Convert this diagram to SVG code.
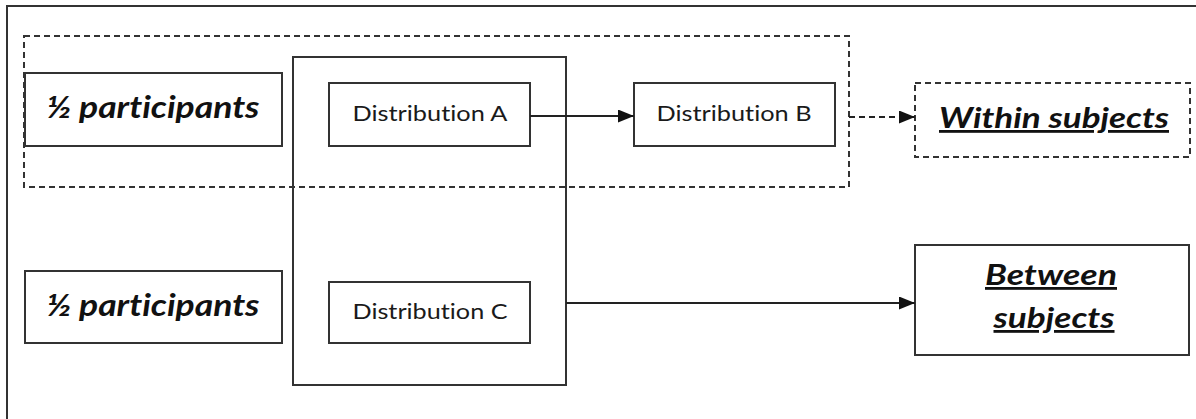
<svg xmlns="http://www.w3.org/2000/svg" width="1196" height="419" viewBox="0 0 1196 419">
<style>
.box{fill:#fff;stroke:#333;stroke-width:2}
.dash{fill:none;stroke:#333;stroke-width:2;stroke-dasharray:6 4}
.line{fill:none;stroke:#222;stroke-width:2}
.big{font-family:Lato,"Liberation Sans",sans-serif;font-weight:bold;font-style:italic;font-size:30px;fill:#111;text-anchor:middle;font-variant-ligatures:none}
.mid{font-size:28px}
.dist{font-family:Lato,"Liberation Sans",sans-serif;font-size:21px;fill:#1a1a1a;text-anchor:middle;font-variant-ligatures:none}
</style>
<defs>
<marker id="arr" viewBox="0 0 16 13" refX="16" refY="6.5" markerWidth="16" markerHeight="13" markerUnits="userSpaceOnUse" orient="auto">
<path d="M0,0 L16,6.5 L0,13 Z" fill="#111"/>
</marker>
</defs>
<rect width="1196" height="419" fill="#fff"/>
<rect id="frame" x="7" y="6" width="1200" height="430" fill="none" stroke="#333" stroke-width="2"/>
<g id="within-group">
<rect x="24" y="36" width="825" height="151" class="dash"/>
</g>
<g id="distribution-container">
<rect x="293" y="57" width="273" height="328" style="fill:none;stroke:#333;stroke-width:2"/>
</g>
<g id="participants-1">
<rect x="25" y="73" width="257" height="73" class="box"/>
<text x="153" y="118" class="big" textLength="213" lengthAdjust="spacingAndGlyphs">½ participants</text>
</g>
<g id="participants-2">
<rect x="25" y="271" width="257" height="72" class="box"/>
<text x="153" y="316" class="big" textLength="213" lengthAdjust="spacingAndGlyphs">½ participants</text>
</g>
<g id="dist-a">
<rect x="329" y="83" width="201" height="63" class="box"/>
<text x="430" y="121" class="dist" textLength="155" lengthAdjust="spacingAndGlyphs">Distribution A</text>
</g>
<g id="dist-b">
<rect x="634" y="83" width="201" height="63" class="box"/>
<text x="734" y="121" class="dist" textLength="155" lengthAdjust="spacingAndGlyphs">Distribution B</text>
</g>
<g id="dist-c">
<rect x="329" y="282" width="201" height="61" class="box"/>
<text x="430" y="319" class="dist" textLength="155" lengthAdjust="spacingAndGlyphs">Distribution C</text>
</g>
<g id="within">
<rect x="915" y="83" width="275" height="74" class="dash" style="fill:#fff"/>
<text x="1054" y="128" class="big mid" text-decoration="underline" textLength="230" lengthAdjust="spacingAndGlyphs">Within subjects</text>
</g>
<g id="between">
<rect x="915" y="245" width="274" height="110" class="box"/>
<text x="1051" y="285" class="big mid" text-decoration="underline" textLength="132" lengthAdjust="spacingAndGlyphs">Between</text>
<text x="1054" y="328" class="big mid" text-decoration="underline" textLength="121" lengthAdjust="spacingAndGlyphs">subjects</text>
</g>
<g id="connectors">
<line x1="530" y1="116" x2="634" y2="116" class="line" marker-end="url(#arr)"/>
<line x1="849" y1="117" x2="915" y2="117" class="line" stroke-dasharray="6 4" marker-end="url(#arr)"/>
<line x1="566" y1="303" x2="915" y2="303" class="line" marker-end="url(#arr)"/>
</g>
</svg>
